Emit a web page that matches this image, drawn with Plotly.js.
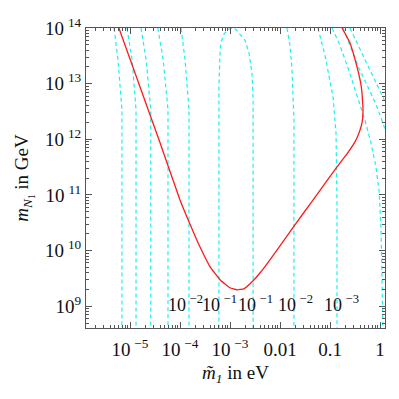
<!DOCTYPE html>
<html>
<head>
<meta charset="utf-8">
<script src="https://cdn.plot.ly/plotly-3.0.1.min.js"></script>
<style>
  html, body { margin: 0; padding: 0; background: #fff; }
  #plot { width: 399px; height: 399px; }
</style>
</head>
<body>
<div id="plot"></div>
<script>
// red curve (m1 tilde in eV, M1 in GeV)
var redX = [6.0e-6, 1.26e-5, 3.8e-5, 1.0e-4, 1.58e-4, 2.5e-4, 4.0e-4, 6.3e-4, 1.0e-3, 1.38e-3,
            1.9e-3, 2.9e-3, 4.0e-3, 5.5e-3, 0.01, 0.018, 0.046, 0.138, 0.219, 0.316,
            0.38, 0.437, 0.457, 0.447, 0.417, 0.347, 0.251, 0.174];
var redY = [1e14, 1.55e13, 9.8e11, 8.1e10, 3.0e10, 1.17e10, 5.1e9, 3.0e9, 2.15e9, 1.98e9,
            2.06e9, 2.87e9, 4.0e9, 5.8e9, 1.22e10, 2.57e10, 8.2e10, 3.2e11, 5.5e11, 9.0e11,
            1.3e12, 1.97e12, 3.1e12, 5.1e12, 9.5e12, 2.0e13, 5.4e13, 1e14];

// cyan efficiency contours
var contourLines = [
  {x: [4.8e-6, 5.75e-6, 6.9e-6, 6.9e-6],   y: [1e14, 2.7e13, 3.4e12, 3e8]},
  {x: [8.7e-6, 1.1e-5, 1.32e-5, 1.32e-5],  y: [1e14, 2.7e13, 3.4e12, 3e8]},
  {x: [1.66e-5, 2.1e-5, 2.6e-5, 2.6e-5],   y: [1e14, 2.7e13, 3.4e12, 3e8]},
  {x: [3.6e-5, 4.6e-5, 5.75e-5, 5.75e-5],  y: [1e14, 2.7e13, 3.4e12, 3e8]},
  {x: [1.05e-4, 1.26e-4, 1.51e-4, 1.51e-4], y: [1e14, 2.7e13, 3.4e12, 3e8]},
  {x: [6.0e-4, 6.0e-4, 6.3e-4, 6.6e-4, 7.6e-4, 9.1e-4, 1.1e-3, 1.32e-3, 1.51e-3, 2.0e-3, 2.4e-3, 2.75e-3, 2.9e-3, 2.9e-3],
   y: [3e8, 8.7e12, 3.3e13, 5.6e13, 7.8e13, 9.4e13, 1e14, 9.4e13, 8.1e13, 6.0e13, 3.55e13, 1.55e13, 5.1e12, 3e8]},
  {x: [0.0138, 0.0158, 0.0174, 0.019, 0.019], y: [1e14, 4.9e13, 1.78e13, 2.2e12, 3e8]},
  {x: [0.0575, 0.079, 0.115, 0.132, 0.138, 0.138], y: [1e14, 3.3e13, 5.8e12, 1.3e12, 8.1e10, 3e8]},
  {x: [0.11, 0.158, 0.24, 0.35, 0.5, 0.66, 0.83, 0.955, 1.05, 1.15],
   y: [1e14, 4.9e13, 1.7e13, 6.0e12, 2.2e12, 8.7e11, 3.2e11, 1.2e11, 2.4e10, 3e8]},
  {x: [0.182, 0.263, 0.38, 0.55, 0.79, 1.0, 1.3], y: [1e14, 4.4e13, 1.9e13, 9.5e12, 4.7e12, 2.75e12, 1.4e12]},
  {x: [0.25, 0.363, 0.55, 0.79, 1.3], y: [1e14, 4.9e13, 2.35e13, 1.17e13, 4.5e12]}
];

// contour labels
var labelText = ['10\u2009<sup>\u22122</sup>', '10\u2009<sup>\u22121</sup>', '10\u2009<sup>\u22121</sup>',
                 '10\u2009<sup>\u22122</sup>', '10\u2009<sup>\u22123</sup>'];
var labelX = [1.3e-4, 6.3e-4, 3.2e-3, 0.02, 0.166];
var labelY = [1.11e9, 1.11e9, 1.11e9, 1.11e9, 1.11e9];

var xTickVals = [1e-5, 1e-4, 1e-3, 0.01, 0.1, 1];
var xTickText = ['10\u2009<sup>\u22125</sup>', '10\u2009<sup>\u22124</sup>', '10\u2009<sup>\u22123</sup>', '0.01', '0.1', '1'];
var yTickVals = [1e9, 1e10, 1e11, 1e12, 1e13, 1e14];
var yTickText = ['10<sup>9</sup>', '10\u2009<sup>10</sup>', '10\u2009<sup>11</sup>', '10\u2009<sup>12</sup>',
                 '10\u2009<sup>13</sup>', '10\u2009<sup>14</sup>'];

function minorVals(lo, hi) {
  var out = [];
  for (var e = lo; e <= hi; e++) {
    for (var k = 2; k <= 9; k++) out.push(k * Math.pow(10, e));
  }
  return out;
}

var cyan = '#1ef0f0';
var traces = contourLines.map(function (c) {
  return {x: c.x, y: c.y, type: 'scatter', mode: 'lines', hoverinfo: 'none',
          line: {color: cyan, width: 1.2, dash: '4px,3px'}};
});
traces.push({x: redX, y: redY, type: 'scatter', mode: 'lines', hoverinfo: 'none',
             line: {color: '#ff1a1a', width: 1.3, shape: 'spline', smoothing: 0.3}});

var serif = '"Liberation Serif", "Times New Roman", serif';
var axisCommon = {
  type: 'log',
  showgrid: false,
  zeroline: false,
  showline: true,
  mirror: 'allticks',
  linecolor: '#555',
  linewidth: 1,
  ticks: 'inside',
  ticklen: 6,
  tickcolor: '#555',
  tickmode: 'array',
  tickfont: {family: serif, size: 19, color: '#111'}
};

var layout = {
  width: 399,
  height: 399,
  margin: {l: 86, r: 14, t: 28, b: 71},
  paper_bgcolor: '#fff',
  plot_bgcolor: '#fff',
  showlegend: false,
  font: {family: serif, color: '#111'},
  xaxis: Object.assign({}, axisCommon, {
    range: [-5.88, 0.1],
    tickvals: xTickVals,
    ticktext: xTickText,
    ticklabelstandoff: 4,
    minor: {ticks: 'inside', ticklen: 3, tickcolor: '#555', tickmode: 'array', tickvals: minorVals(-6, 0)},
    title: {text: '<i>m\u0303</i><sub><i>1</i></sub> in eV', font: {family: serif, size: 19}, standoff: 6}
  }),
  yaxis: Object.assign({}, axisCommon, {
    range: [8.61, 14],
    tickvals: yTickVals,
    ticktext: yTickText,
    minor: {ticks: 'inside', ticklen: 3, tickcolor: '#555', tickmode: 'array', tickvals: minorVals(8, 13)},
    title: {text: '<i>m</i><sub><i>N</i><sub>1</sub></sub> in GeV', font: {family: serif, size: 19}, standoff: 11}
  }),
  annotations: labelText.map(function (t, i) {
    return {x: Math.log10(labelX[i]), y: Math.log10(labelY[i]), xref: 'x', yref: 'y', text: t,
            showarrow: false, font: {family: serif, size: 18, color: '#111'}};
  })
};

Plotly.newPlot('plot', traces, layout, {staticPlot: true});
</script>
</body>
</html>
